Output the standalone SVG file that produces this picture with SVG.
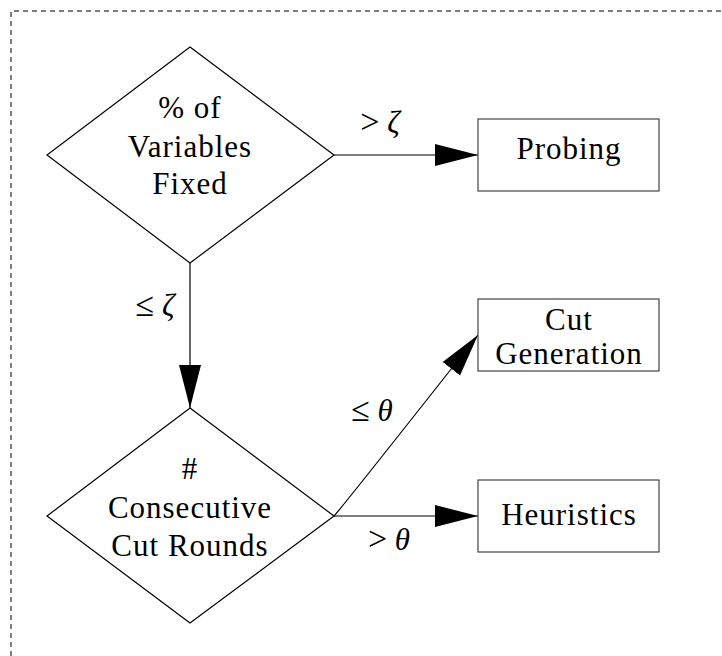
<svg xmlns="http://www.w3.org/2000/svg" width="722" height="656" viewBox="0 0 722 656">
<style>
text{font-family:'Liberation Serif','DejaVu Serif',serif;font-size:31px;fill:#000;text-anchor:middle}
.lbl{letter-spacing:1px}
.math{font-style:italic}
.op{font-size:34px}
.dia{fill:#fff;stroke:#000;stroke-width:1.2}
.box{fill:#fff;stroke:#444;stroke-width:1.2}
.edge{fill:none;stroke:#000;stroke-width:1.2;marker-end:url(#ah)}
</style>
<defs>
<marker id="ah" markerUnits="userSpaceOnUse" markerWidth="44" markerHeight="24" refX="43" refY="11" orient="auto">
<path d="M0,0 L43,11 L0,22 Z" fill="#000"/>
</marker>
</defs>
<rect width="722" height="656" fill="#fff"/>
<path d="M11,656 V11 H722" fill="none" stroke="#000" stroke-width="1" stroke-dasharray="5,4"/>
<g id="connectors">
<line class="edge" x1="334" y1="155" x2="478" y2="155"/>
<line class="edge" x1="190" y1="263" x2="190" y2="408"/>
<path class="edge" d="M334,516 Q340,510 478,335"/>
<line class="edge" x1="334" y1="516" x2="478" y2="516"/>
<text x="380" y="133"><tspan class="op">&gt;</tspan> <tspan class="math">ζ</tspan></text>
<text x="155" y="316"><tspan class="op">≤</tspan> <tspan class="math">ζ</tspan></text>
<text x="372" y="421"><tspan class="op">≤</tspan> <tspan class="math">θ</tspan></text>
<text x="389" y="550"><tspan class="op">&gt;</tspan> <tspan class="math">θ</tspan></text>
</g>
<g id="n_fixed">
<polygon class="dia" points="190,47 334,155 190,263 47,155"/>
<text class="lbl" x="190" y="118">% of</text>
<text class="lbl" x="190" y="157">Variables</text>
<text class="lbl" x="190" y="194">Fixed</text>
</g>
<g id="n_rounds">
<polygon class="dia" points="190,408 334,516 190,623 47,516"/>
<text class="lbl" x="190" y="479">#</text>
<text class="lbl" x="190" y="518">Consecutive</text>
<text class="lbl" x="190" y="556">Cut Rounds</text>
</g>
<g id="n_probing">
<rect class="box" x="478" y="119" width="181" height="72"/>
<text class="lbl" x="569" y="159">Probing</text>
</g>
<g id="n_cutgen">
<rect class="box" x="478" y="299" width="181" height="72"/>
<text class="lbl" x="569" y="330">Cut</text>
<text class="lbl" x="569" y="364">Generation</text>
</g>
<g id="n_heur">
<rect class="box" x="478" y="480" width="181" height="72"/>
<text class="lbl" x="569" y="525">Heuristics</text>
</g>
</svg>
